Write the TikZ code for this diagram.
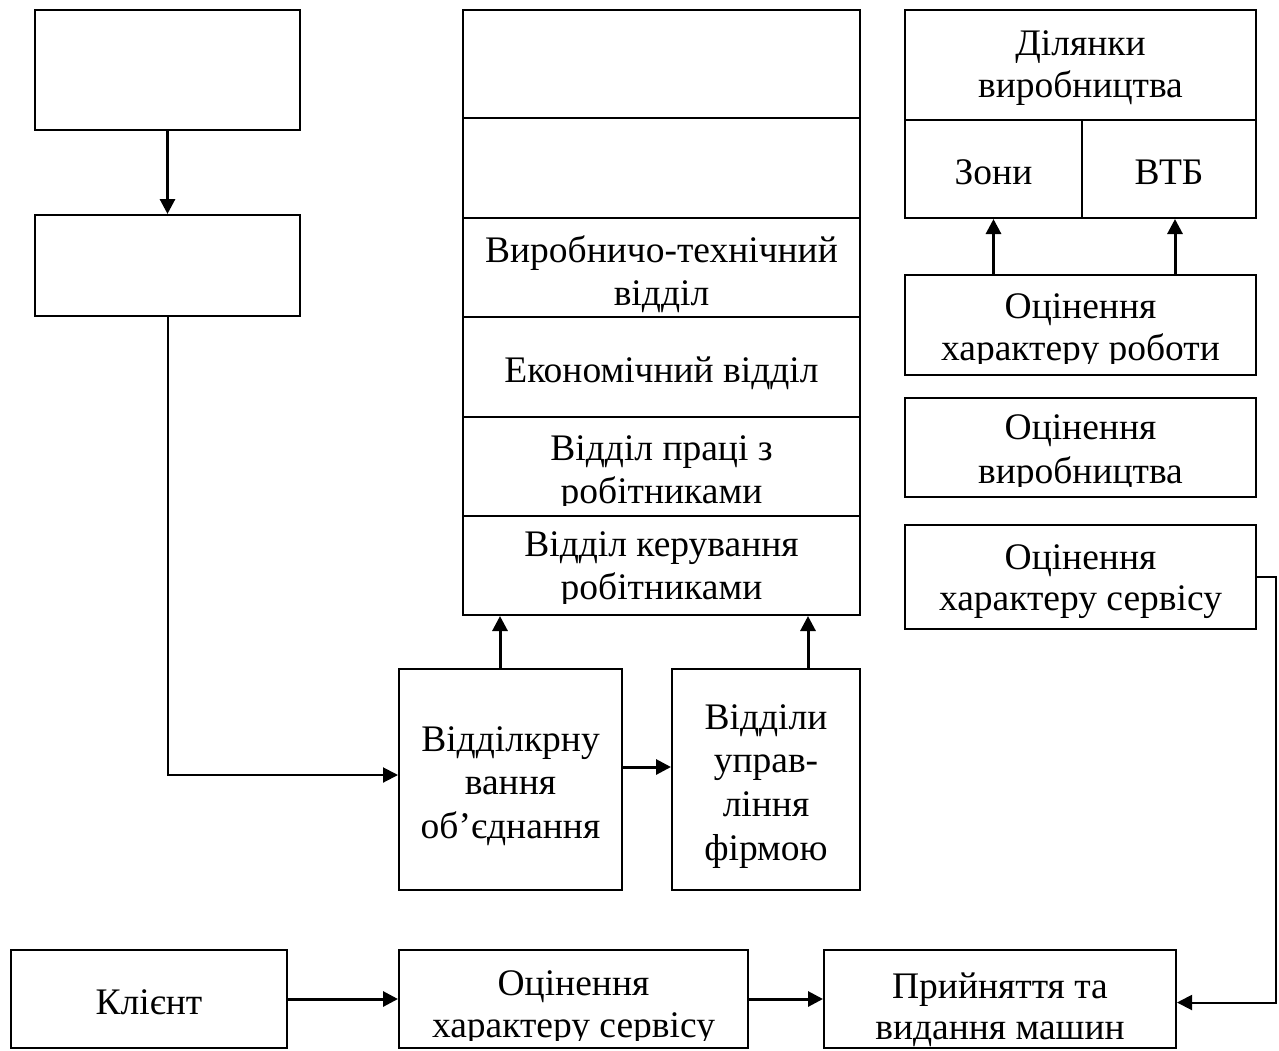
\documentclass[tikz,border=0pt]{standalone}
\usepackage{fontspec}
\setmainfont{Liberation Serif}
\usetikzlibrary{arrows.meta,fit}
\tikzset{
  box/.style={draw, line width=1pt, inner sep=0pt},
  txt/.style={inner sep=0pt, anchor=north, align=center,
    font=\fontsize{18.75}{#1}\selectfont, execute at begin node=\strut},
  txt/.default=20,
  arr/.style={line width=1.5pt, -{Triangle[length=7.5pt,width=7.5pt]}},
  thinarr/.style={line width=1pt, -{Triangle[length=7.5pt,width=7.5pt]}},
}
\begin{document}
\begin{tikzpicture}[x=0.5pt,y=-0.5pt]
\useasboundingbox (0,0) rectangle (1279,1050);

% left column
\node[box, fit={(35,10)(300,130)}] (A) {};
\node[box, fit={(35,215)(300,316)}] (B) {};

% middle stack
\node[box, fit={(463,10)(860,118)}] (s1) {};
\node[box, fit={(463,118)(860,218)}] (s2) {};
\node[box, fit={(463,218)(860,317)}] (s3) {};
\node[box, fit={(463,317)(860,417)}] (s4) {};
\node[box, fit={(463,417)(860,516)}] (s5) {};
\node[box, fit={(463,516)(860,615)}] (s6) {};
\node[txt=21.5] (t3) at (661.5,234.9) {Виробничо-технічний\\відділ};
\node[txt=20] (t4) at (661.5,354) {Економічний відділ};
\begin{scope}
  \clip (463,417) rectangle (860,505);
  \node[txt=21.5] (t5) at (661.5,434.9) {Відділ праці з\\робітниками};
\end{scope}
\begin{scope}
  \clip (463,516) rectangle (860,603);
  \node[txt=21.5] (t6) at (661.5,531.5) {Відділ керування\\робітниками};
\end{scope}

% middle lower boxes
\node[box, fit={(399,669)(622,890)}] (C) {};
\node[box, fit={(672,669)(860,890)}] (D) {};
\node[txt=21.75] (tC) at (510.5,726) {Відділкрну\\вання\\об’єднання};
\node[txt=21.85] (tD) at (766,704) {Відділи\\управ-\\ління\\фірмою};

% right column
\node[box, fit={(905,10)(1256,120)}] (R1) {};
\node[box, fit={(905,120)(1082,218)}] (R2a) {};
\node[box, fit={(1082,120)(1256,218)}] (R2b) {};
\node[box, fit={(905,275)(1256,375)}] (R3) {};
\node[box, fit={(905,398)(1256,497)}] (R4) {};
\node[box, fit={(905,525)(1256,629)}] (R5) {};
\node[txt=21] (tR1) at (1080.5,30.2) {Ділянки\\виробництва};
\node[txt=20] (tR2a) at (993.5,156) {Зони};
\node[txt=20] (tR2b) at (1169,156) {ВТБ};
\begin{scope}
  \clip (905,275) rectangle (1256,363);
  \node[txt=21] (tR3) at (1080.5,292.8) {Оцінення\\характеру роботи};
\end{scope}
\begin{scope}
  \clip (905,398) rectangle (1256,486);
  \node[txt=22] (tR4) at (1080.5,414.5) {Оцінення\\виробництва};
\end{scope}
\node[txt=20.5] (tR5) at (1080.5,544.3) {Оцінення\\характеру сервісу};

% bottom row
\node[box, fit={(11,950)(287,1048)}] (K) {};
\node[box, fit={(399,950)(748,1048)}] (O) {};
\node[box, fit={(824,950)(1176,1048)}] (P) {};
\node[txt=20] (tK) at (149,986) {Клієнт};
\begin{scope}
  \clip (399,950) rectangle (748,1040);
  \node[txt=21] (tO) at (573.5,970.6) {Оцінення\\характеру сервісу};
\end{scope}
\node[txt=20.5] (tP) at (1000,972.9) {Прийняття та\\видання машин};

% connectors
\draw[arr] (A) -- (B);
\draw[thinarr] (B.south) |- ([yshift=2.25pt]C.west);
\draw[arr] ([xshift=-5.25pt]C.north) -- ([xshift=-5.25pt]C.north |- s6.south);
\draw[arr] ([xshift=21pt]D.north) -- ([xshift=21pt]D.north |- s6.south);
\draw[arr] ([yshift=6.25pt]C.east) -- ([yshift=6.25pt]C.east -| D.west);
\draw[arr] (R3.north -| R2a.south) -- (R2a.south);
\draw[arr] ([xshift=3pt]R2b.south |- R3.north) -- ([xshift=3pt]R2b.south);
\draw[arr] (K) -- (O);
\draw[arr] (O) -- (P);
\draw[thinarr] (R5.east) -- ++(9.5pt,0) |- ([yshift=-1.75pt]P.east);
\end{tikzpicture}
\end{document}
